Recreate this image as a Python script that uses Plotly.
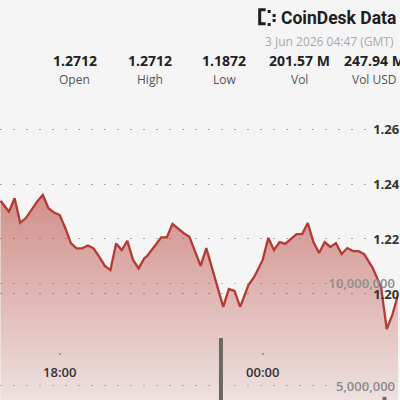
import plotly.graph_objects as go

# price series (10 min candles, closing price)
times = [
    "2026-06-02 16:15", "2026-06-02 16:30", "2026-06-02 16:40", "2026-06-02 16:50",
    "2026-06-02 17:00", "2026-06-02 17:20", "2026-06-02 17:30", "2026-06-02 17:40",
    "2026-06-02 17:50", "2026-06-02 18:00", "2026-06-02 18:10", "2026-06-02 18:20",
    "2026-06-02 18:30", "2026-06-02 18:40", "2026-06-02 18:50", "2026-06-02 19:00",
    "2026-06-02 19:10", "2026-06-02 19:20", "2026-06-02 19:30", "2026-06-02 19:40",
    "2026-06-02 19:50", "2026-06-02 20:00", "2026-06-02 20:10", "2026-06-02 20:20",
    "2026-06-02 20:30", "2026-06-02 20:35", "2026-06-02 20:50", "2026-06-02 21:00",
    "2026-06-02 21:10", "2026-06-02 21:20", "2026-06-02 21:40", "2026-06-02 21:50",
    "2026-06-02 22:10", "2026-06-02 22:20", "2026-06-02 22:50", "2026-06-02 23:00",
    "2026-06-02 23:10", "2026-06-02 23:20", "2026-06-02 23:35", "2026-06-02 23:45",
    "2026-06-03 00:00", "2026-06-03 00:10", "2026-06-03 00:20", "2026-06-03 00:30",
    "2026-06-03 00:40", "2026-06-03 00:50", "2026-06-03 01:00", "2026-06-03 01:10",
    "2026-06-03 01:20", "2026-06-03 01:30", "2026-06-03 01:40", "2026-06-03 01:50",
    "2026-06-03 02:00", "2026-06-03 02:10", "2026-06-03 02:20", "2026-06-03 02:30",
    "2026-06-03 02:40", "2026-06-03 02:50", "2026-06-03 03:00", "2026-06-03 03:15",
    "2026-06-03 03:30", "2026-06-03 03:40", "2026-06-03 03:50", "2026-06-03 04:00",
]
price = [
    1.2339, 1.2299, 1.2348, 1.2259,
    1.2276, 1.2336, 1.2360, 1.2312,
    1.2296, 1.2287, 1.2239, 1.2184,
    1.2166, 1.2166, 1.2176, 1.2166,
    1.2136, 1.2102, 1.2087, 1.2184,
    1.2160, 1.2193, 1.2124, 1.2093,
    1.2130, 1.2138, 1.2178, 1.2206,
    1.2206, 1.2255, 1.2221, 1.2208,
    1.2102, 1.2167, 1.1953, 1.2018,
    1.2011, 1.1953, 1.2033, 1.2062,
    1.2124, 1.2204, 1.2160, 1.2189,
    1.2182, 1.2200, 1.2218, 1.2218,
    1.2258, 1.2189, 1.2149, 1.2189,
    1.2171, 1.2185, 1.2145, 1.2167,
    1.2156, 1.2156, 1.2145, 1.2095,
    1.2025, 1.1872, 1.1924, 1.1996,
]

# only the volume bars that reach into view
vol_times = ["2026-06-02 22:46", "2026-06-03 03:36"]
volume = [7330000, 4470000]

price_ticks = [1.20, 1.22, 1.24, 1.26]
vol_ticks = [5000000, 10000000]

stat_values = ["1.2712", "1.2712", "1.1872", "201.57 M", "247.94 M"]
stat_labels = ["Open", "High", "Low", "Vol", "Vol USD"]

BG = "#f5f5f5"
LINE = "#b33b33"
FONT = "Open Sans"

fig = go.Figure()

fig.add_trace(go.Scatter(
    x=times, y=price, mode="lines", yaxis="y",
    line=dict(color=LINE, width=2.3),
    fill="tozeroy",
    fillgradient=dict(type="vertical", start=1.1615, stop=1.236,
                      colorscale=[[0, "rgba(180,60,50,0.11)"], [1, "rgba(180,60,50,0.55)"]]),
    hoverinfo="skip",
))

fig.add_trace(go.Bar(
    x=vol_times, y=volume, yaxis="y2", width=420000,
    marker=dict(color="#6d6764", line=dict(width=0)),
    hoverinfo="skip",
))

fig.update_layout(
    width=400, height=400,
    margin=dict(l=0, r=0, t=0, b=0),
    paper_bgcolor=BG, plot_bgcolor=BG,
    showlegend=False,
    font=dict(family=FONT, color="#333333"),
    xaxis=dict(
        type="date",
        range=["2026-06-02 16:14:07", "2026-06-03 04:00"],
        domain=[0, 1],
        anchor="free", position=0.12,
        tickformat="%H:%M", dtick=21600000, tick0="2026-06-02 00:00",
        ticks="outside", ticklen=2, tickwidth=2, tickcolor="#9a9a9a",
        ticklabelstandoff=6,
        tickfont=dict(size=13, color="#333333", weight=600),
        showgrid=False, showline=False, zeroline=False,
    ),
    yaxis=dict(
        range=[1.16145, 1.30691],
        domain=[0, 1],
        side="right", anchor="free", position=0.935,
        tickvals=price_ticks, tickformat=".2f",
        tickfont=dict(size=13, color="#333333", weight=700),
        showgrid=True, gridcolor="#a8a8a8", gridwidth=1, griddash="2px,11px",
        showline=False, zeroline=False, ticks="",
    ),
    yaxis2=dict(
        range=[4320000, 23740000],
        overlaying="y",
        side="right", anchor="free", position=1,
        ticklabelposition="inside",
        tickvals=vol_ticks, tickformat=",",
        tickfont=dict(size=13, color="#8c8c8c", weight=600),
        showgrid=True, gridcolor="#b8b8b8", gridwidth=1, griddash="2px,11px",
        showline=False, zeroline=False, ticks="",
    ),
)

# header: logo, timestamp and stats row
fig.add_annotation(x=400 / 400, y=1 - 18 / 400, xref="paper", yref="paper",
                   xanchor="right", yanchor="middle", showarrow=False,
                   text="<b>CoinDesk Data</b>",
                   font=dict(family="Roboto", size=17.5, color="#1e1e1e"))
# logo mark
fig.add_shape(type="path", xref="paper", yref="paper",
              path="M 0.6675,0.9755 L 0.6525,0.9755 L 0.6525,0.9405 L 0.6675,0.9405",
              line=dict(color="#1e1e1e", width=3))
for px, py in [(269, 11), (269, 24), (274, 15), (274, 20)]:
    fig.add_shape(type="rect", xref="paper", yref="paper",
                  x0=px / 400, x1=(px + 3) / 400, y0=1 - (py + 2) / 400, y1=1 - (py - 1) / 400,
                  fillcolor="#1e1e1e", line=dict(width=0))

fig.add_annotation(x=398 / 400, y=1 - 42 / 400, xref="paper", yref="paper",
                   xanchor="right", yanchor="middle", showarrow=False,
                   text="3 Jun 2026 04:47 (GMT)",
                   font=dict(family=FONT, size=12, color="#a9a9a9"))

for i, (val, lab) in enumerate(zip(stat_values, stat_labels)):
    cx = (75 + 75.3 * i) / 400
    fig.add_annotation(x=cx, y=1 - 61 / 400, xref="paper", yref="paper",
                       xanchor="center", yanchor="middle", showarrow=False,
                       text="<b>" + val + "</b>",
                       font=dict(family=FONT, size=14, color="#222222"))
    fig.add_annotation(x=cx, y=1 - 79 / 400, xref="paper", yref="paper",
                       xanchor="center", yanchor="middle", showarrow=False,
                       text=lab,
                       font=dict(family=FONT, size=12, color="#555555"))

# drop the page's default body margin so the figure fills the window
fig.write_html("out.html", config={"displayModeBar": False},
               post_script="document.body.style.margin='0';")
